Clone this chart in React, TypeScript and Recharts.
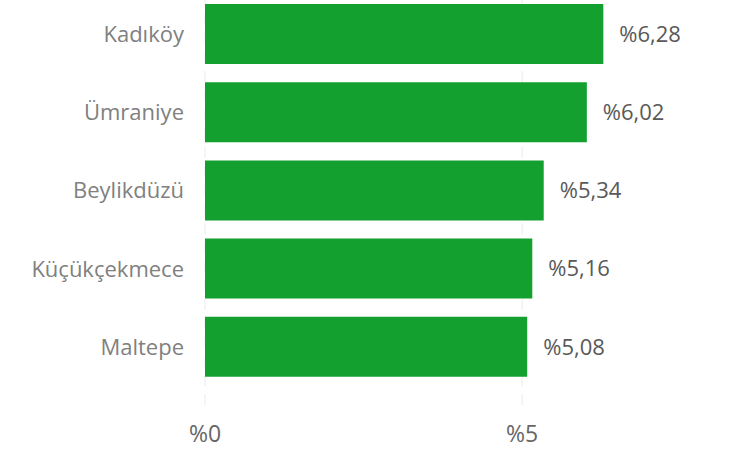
import React from 'react';
import { BarChart, Bar, XAxis, YAxis, CartesianGrid, LabelList } from 'recharts';

const districts = ['Kadıköy', 'Ümraniye', 'Beylikdüzü', 'Küçükçekmece', 'Maltepe'];
const shares = [6.28, 6.02, 5.34, 5.16, 5.08];
const xTicks = [0, 5];
const xMax = 7;

const data = districts.map((name, i) => ({ name, value: shares[i] }));

const fmtPct = (v: number) => `%${v}`;
const fmtLabel = (v: any) => `%${Number(v).toFixed(2).replace('.', ',')}`;

const FONT = '"Open Sans", "Noto Sans", sans-serif';

// only draw grid lines at the real ticks (no line at the domain end)
const gridX = (props: any) => {
  const { left, width } = props.offset;
  return xTicks.map((t) => left + (t / xMax) * width);
};

export default function App() {
  return (
    <div style={{ position: 'fixed', left: 0, top: -5, width: 734, height: 462, background: '#fff' }}>
      <BarChart
        width={734}
        height={462}
        data={data}
        layout="vertical"
        margin={{ top: 0, right: 85, bottom: 0, left: 0 }}
        style={{ fontFamily: FONT }}
      >
        <CartesianGrid
          horizontal={false}
          stroke="#ebebeb"
          strokeDasharray="11 8"
          verticalCoordinatesGenerator={gridX}
        />
        <XAxis
          type="number"
          domain={[0, xMax]}
          ticks={xTicks}
          tickFormatter={fmtPct}
          axisLine={false}
          tickLine={false}
          tickSize={0}
          tickMargin={15}
          height={46}
          tick={{ fill: '#666666', fontSize: 23 }}
        />
        <YAxis
          type="category"
          dataKey="name"
          width={205}
          axisLine={false}
          tickLine={false}
          tickSize={0}
          tickMargin={21}
          padding={{ top: 0, bottom: 25 }}
          tick={{ fill: '#808080', fontSize: 22 }}
        />
        <Bar dataKey="value" fill="#13A02F" barSize={60} isAnimationActive={false}>
          <LabelList
            dataKey="value"
            position="right"
            offset={16}
            formatter={fmtLabel}
            fill="#595959"
            fontSize={22}
          />
        </Bar>
      </BarChart>
    </div>
  );
}
